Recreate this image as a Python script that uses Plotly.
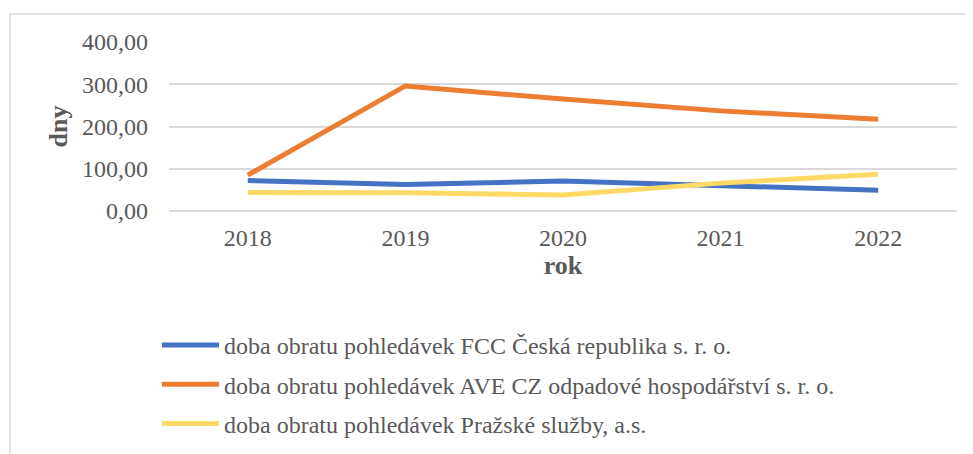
import plotly.graph_objects as go

years = ["2018", "2019", "2020", "2021", "2022"]
fcc = [72, 63, 71, 59, 49]
ave = [85, 296, 265, 237, 217]
prazske = [44, 43, 38, 66, 87]
names = [
    "doba obratu pohledávek FCC Česká republika s. r. o.",
    "doba obratu pohledávek AVE CZ odpadové hospodářství s. r. o.",
    "doba obratu pohledávek Pražské služby, a.s.",
]
colors = ["#4472C4", "#ED7D31", "#FFD966"]
series = [fcc, ave, prazske]

FONT = "Liberation Serif"
GRAY = "#595959"

fig = go.Figure()
for i, (n, s, c) in enumerate(zip(names, series, colors)):
    fig.add_trace(go.Scatter(x=years, y=s, name=n, mode="lines",
                             line=dict(color=c, width=5), legendgroup=f"g{i}"))

W, H = 973, 454
OFF = 8  # page body margin
L, T = 169 - OFF, 42 - OFF
pw, ph = 788, 169
R, B = W - L - pw, H - T - ph

def px_x(p):  # screen x -> paper
    return (p - 169) / pw

def px_y(p):  # screen y -> paper
    return (211 - p) / ph

fig.update_layout(
    width=W, height=H,
    margin=dict(l=L, r=R, t=T, b=B, autoexpand=False),
    paper_bgcolor="white", plot_bgcolor="white",
    separators=", ",
    font=dict(family=FONT, color=GRAY, size=22),
    showlegend=True,
    legend=dict(x=px_x(157), y=px_y(323), xanchor="left", yanchor="top",
                font=dict(family=FONT, size=24, color=GRAY),
                itemwidth=57,
                tracegroupgap=5, bgcolor="rgba(0,0,0,0)"),
    xaxis=dict(showgrid=False, showline=False, zeroline=False,
               range=[-0.5, 4.5],
               tickfont=dict(family=FONT, size=24, color=GRAY),
               ticklabelstandoff=10,
               title=dict(text="<b>rok</b>", font=dict(family=FONT, size=26, color=GRAY), standoff=3)),
    yaxis=dict(range=[0, 400], tickvals=[0, 100, 200, 300, 400], tickformat=".2f",
               showgrid=True, gridcolor="#D9D9D9", gridwidth=2,
               zeroline=True, zerolinecolor="#D9D9D9", zerolinewidth=2,
               showline=False,
               tickfont=dict(family=FONT, size=24, color=GRAY),
               ticklabelstandoff=20,
               title=dict(text="<b>dny</b>", font=dict(family=FONT, size=26, color=GRAY), standoff=6)),
    shapes=[dict(type="rect", xref="paper", yref="paper",
                 x0=px_x(10), x1=px_x(1000), y0=px_y(500), y1=px_y(14),
                 line=dict(color="#D9D9D9", width=1.5), layer="below")],
)

fig.write_html("out.html")
